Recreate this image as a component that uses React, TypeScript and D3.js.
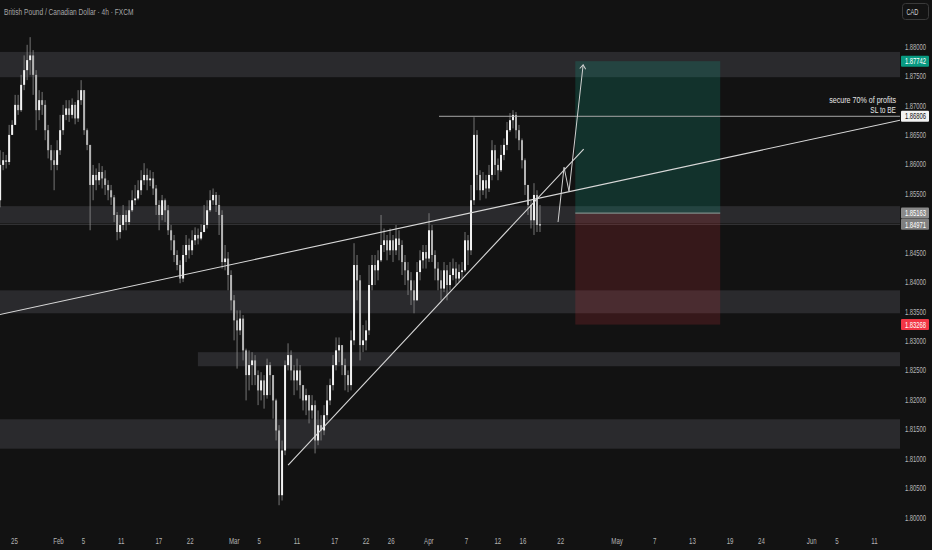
import { useEffect, useRef } from "react"
import * as d3 from "d3"

const W = 932
const H = 550
const PLOT_RIGHT = 900
const PLOT_BOTTOM = 530

const parseDay = d3.timeParse("%Y-%m-%d")
const parseHour = d3.timeParse("%Y-%m-%d %H")

// 4h-ish candles (open = previous close)
const firstOpen = 1.8538
const closes = [
  1.8598, 1.8606, 1.8603, 1.8649, 1.8666, 1.87, 1.8691, 1.8734, 1.8759, 1.8776,
  1.8784, 1.8751, 1.8691, 1.8708, 1.87, 1.8657, 1.8623, 1.8606, 1.8598, 1.8623,
  1.8657, 1.8683, 1.8694, 1.8683, 1.87, 1.8677, 1.8708, 1.8725, 1.8657, 1.8632,
  1.8564, 1.8581, 1.8572, 1.8586, 1.8575, 1.8564, 1.8555, 1.8543, 1.8513, 1.8484,
  1.8496, 1.8513, 1.8501, 1.8521, 1.8538, 1.8541, 1.8555, 1.8572, 1.8581, 1.8572,
  1.8575, 1.8558, 1.853, 1.8513, 1.8538, 1.8521, 1.8487, 1.847, 1.8445, 1.8428,
  1.8405, 1.8445, 1.8462, 1.8453, 1.847, 1.8479, 1.8473, 1.8484, 1.8496, 1.8521,
  1.8538, 1.8547, 1.853, 1.8513, 1.8433, 1.8439, 1.8411, 1.8368, 1.8334, 1.8317,
  1.8337, 1.8283, 1.8241, 1.8258, 1.8266, 1.8241, 1.8215, 1.8232, 1.8207, 1.8258,
  1.8241, 1.8198, 1.8147, 1.8037, 1.8113, 1.8258, 1.8275, 1.8249, 1.8232, 1.8249,
  1.8224, 1.8198, 1.8207, 1.8181, 1.819, 1.813, 1.8156, 1.8147, 1.8173, 1.8198,
  1.8224, 1.8258, 1.8283, 1.8292, 1.8258, 1.8241, 1.8224, 1.83, 1.8428, 1.8402,
  1.8292, 1.83, 1.8317, 1.8394, 1.8428, 1.8419, 1.8436, 1.8462, 1.847, 1.8453,
  1.847, 1.8453, 1.8473, 1.8462, 1.8433, 1.8419, 1.8402, 1.8385, 1.8368, 1.8416,
  1.8436, 1.845, 1.8439, 1.8487, 1.8445, 1.8422, 1.8402, 1.8388, 1.8419, 1.8394,
  1.8411, 1.8422, 1.8405, 1.8416, 1.8419, 1.847, 1.8453, 1.8538, 1.8649, 1.8581,
  1.8555, 1.8572, 1.8558, 1.8581, 1.8623, 1.8598, 1.8589, 1.8615, 1.8632, 1.8657,
  1.8674, 1.8683, 1.8657, 1.864, 1.8606, 1.8564, 1.853, 1.8504, 1.8547, 1.8496, 1.8497,
]
const highs = [
  1.8623, 1.862, 1.8615, 1.8666, 1.8674, 1.8717, 1.8717, 1.8751, 1.8784, 1.8802,
  1.8815, 1.8793, 1.8759, 1.8725, 1.8722, 1.8708, 1.8666, 1.8632, 1.8623, 1.864,
  1.8683, 1.87, 1.8708, 1.8708, 1.8711, 1.8705, 1.8725, 1.8742, 1.8725, 1.866,
  1.8632, 1.8598, 1.8592, 1.8601, 1.8596, 1.8589, 1.8572, 1.8564, 1.8547, 1.8518,
  1.8513, 1.853, 1.8521, 1.8538, 1.8555, 1.8564, 1.8572, 1.8589, 1.8601, 1.8592,
  1.8589, 1.8586, 1.8564, 1.8538, 1.8547, 1.8541, 1.853, 1.8496, 1.8479, 1.8453,
  1.8436, 1.8462, 1.8479, 1.8473, 1.8487, 1.8492, 1.849, 1.8497, 1.853, 1.8538,
  1.8555, 1.8558, 1.8552, 1.8547, 1.8521, 1.8462, 1.845, 1.8419, 1.8377, 1.8351,
  1.8351, 1.8343, 1.8286, 1.8283, 1.828, 1.8275, 1.8249, 1.8246, 1.8241, 1.8269,
  1.8263, 1.8241, 1.8201, 1.8156, 1.813, 1.8266, 1.8295, 1.8283, 1.8258, 1.8269,
  1.8258, 1.8224, 1.8218, 1.8207, 1.8207, 1.8198, 1.8181, 1.8173, 1.819, 1.8224,
  1.8235, 1.8275, 1.8305, 1.8305, 1.8292, 1.8269, 1.8249, 1.8317, 1.8465, 1.8445,
  1.8411, 1.8326, 1.8334, 1.8428, 1.8445, 1.8445, 1.8453, 1.8513, 1.849, 1.8479,
  1.849, 1.8479, 1.8496, 1.8487, 1.847, 1.8445, 1.8433, 1.8416, 1.8402, 1.8433,
  1.8453, 1.8462, 1.8462, 1.8516, 1.8496, 1.8453, 1.8433, 1.8419, 1.8433, 1.8428,
  1.8433, 1.8439, 1.8433, 1.8429, 1.8433, 1.8484, 1.8479, 1.8564, 1.8679, 1.8657,
  1.8589, 1.8586, 1.8581, 1.8598, 1.864, 1.8632, 1.8609, 1.8632, 1.8643, 1.8671,
  1.8686, 1.8691, 1.8688, 1.8666, 1.8643, 1.8609, 1.8564, 1.8538, 1.8567, 1.8555, 1.853,
]
const lows = [
  1.8526, 1.8589, 1.8592, 1.8598, 1.8649, 1.8666, 1.8683, 1.8688, 1.8725, 1.8742,
  1.8751, 1.8717, 1.8657, 1.8674, 1.8683, 1.864, 1.8609, 1.8589, 1.8555, 1.8589,
  1.8615, 1.8649, 1.8674, 1.8671, 1.8677, 1.8667, 1.8671, 1.87, 1.8649, 1.8623,
  1.8487, 1.8538, 1.8555, 1.8564, 1.8558, 1.8547, 1.8538, 1.853, 1.8501, 1.847,
  1.8473, 1.8487, 1.8487, 1.8496, 1.8518, 1.853, 1.8538, 1.8547, 1.8564, 1.8555,
  1.8562, 1.8547, 1.8513, 1.8487, 1.8504, 1.8501, 1.8479, 1.8453, 1.8433, 1.8419,
  1.8397, 1.8399, 1.8433, 1.8439, 1.8445, 1.8462, 1.8463, 1.847, 1.8484, 1.849,
  1.8518, 1.853, 1.8518, 1.8479, 1.8422, 1.8419, 1.8385, 1.8351, 1.83, 1.8252,
  1.8309, 1.8266, 1.8198, 1.8215, 1.8224, 1.8224, 1.819, 1.8198, 1.8184, 1.8201,
  1.8207, 1.8167, 1.813, 1.802, 1.8028, 1.8105, 1.8249, 1.8232, 1.8207, 1.8215,
  1.8201, 1.8181, 1.8173, 1.8159, 1.8167, 1.8108, 1.8122, 1.813, 1.8139, 1.8164,
  1.819, 1.8215, 1.8249, 1.8263, 1.8241, 1.8215, 1.8212, 1.8215, 1.8292, 1.8368,
  1.8266, 1.828, 1.8283, 1.8309, 1.8385, 1.8394, 1.8402, 1.8433, 1.845, 1.8436,
  1.8445, 1.8433, 1.8445, 1.8436, 1.8411, 1.8394, 1.8377, 1.836, 1.8346, 1.8368,
  1.8402, 1.8422, 1.8422, 1.8433, 1.8433, 1.8402, 1.8385, 1.8368, 1.8382, 1.8368,
  1.8385, 1.8402, 1.8394, 1.8399, 1.8405, 1.8416, 1.8428, 1.8445, 1.853, 1.8555,
  1.8538, 1.8547, 1.8541, 1.8552, 1.8572, 1.8581, 1.8572, 1.8586, 1.8606, 1.8623,
  1.8654, 1.866, 1.8643, 1.8623, 1.8592, 1.8547, 1.8513, 1.849, 1.8479, 1.8484, 1.8484,
]
const firstBar = "2025-01-22 19"
const lastBar = "2025-04-18 19"

const priceTicks = [
  1.8, 1.805, 1.81, 1.815, 1.82, 1.825, 1.83, 1.835, 1.84, 1.845, 1.85, 1.855, 1.86,
  1.865, 1.87, 1.875, 1.88,
]
const dateTicks = [
  "2025-01-25", "2025-02-01", "2025-02-05", "2025-02-11", "2025-02-17", "2025-02-22",
  "2025-03-01", "2025-03-05", "2025-03-11", "2025-03-17", "2025-03-22", "2025-03-26",
  "2025-04-01", "2025-04-07", "2025-04-12", "2025-04-16", "2025-04-22", "2025-05-01",
  "2025-05-07", "2025-05-13", "2025-05-19", "2025-05-24", "2025-06-01", "2025-06-05",
  "2025-06-11",
]
const dateLabels = [
  "25", "Feb", "5", "11", "17", "22", "Mar", "5", "11", "17", "22", "26", "Apr", "7",
  "12", "16", "22", "May", "7", "13", "19", "24", "Jun", "5", "11",
]

// supply / demand zones
const zoneHigh = [1.879, 1.8528, 1.8385, 1.828, 1.8166]
const zoneLow = [1.8747, 1.8499, 1.8346, 1.8256, 1.8116]
const zoneFrom = ["2025-01-15 00", "2025-01-15 00", "2025-01-15 00", "2025-02-23 07", "2025-01-15 00"]

// long position tool
const target = 1.87742
const entry = 1.85163
const lastPrice = 1.84971
const stop = 1.83268
const partial = 1.86806
const positionFrom = "2025-04-24 10"
const positionTo = "2025-05-17 12"
const partialFrom = "2025-04-02 17"

const channelLine: [string, number][] = [["2025-01-22 18", 1.8344], ["2025-06-15 04", 1.8674]]
const supportLine: [string, number][] = [["2025-03-09 16", 1.8088], ["2025-04-25 18", 1.8625]]
const projection: [string, number][] = [
  ["2025-04-21 16", 1.8501],
  ["2025-04-22 15", 1.8594],
  ["2025-04-23 10", 1.8553],
  ["2025-04-25 16", 1.8768],
]

const FONT = "'Liberation Sans', Arial, sans-serif"
const PRICE_SX = 0.65 // the screenshot's glyphs are horizontally squeezed

export default function App() {
  const svgRef = useRef<SVGSVGElement>(null)

  useEffect(() => {
    if (!svgRef.current) return
    document.body.style.margin = "0"
    const svg = d3.select(svgRef.current)
    svg.selectAll("*").remove()

    const x = d3
      .scaleTime()
      .domain([parseDay("2025-01-25")!, parseDay("2025-06-11")!])
      .range([14, 874])
    const y = d3.scaleLinear().domain([1.8, 1.88]).range([517, 46])
    const n = closes.length
    const xi = d3
      .scaleLinear()
      .domain([0, n - 1])
      .range([x(parseHour(firstBar)!), x(parseHour(lastBar)!)])

    const candles = closes.map((c, i) => {
      const o = i === 0 ? firstOpen : closes[i - 1]
      return { i, o, c, h: Math.max(highs[i], o, c), l: Math.min(lows[i], o, c) }
    })

    // background
    svg.append("rect").attr("width", W).attr("height", H).attr("fill", "#121212")

    svg
      .append("defs")
      .call((d) =>
        d.append("clipPath").attr("id", "plot").append("rect").attr("width", PLOT_RIGHT).attr("height", PLOT_BOTTOM)
      )
      .call((d) =>
        d
          .append("marker")
          .attr("id", "arrow")
          .attr("viewBox", "-6 -5 8 10")
          .attr("markerWidth", 8)
          .attr("markerHeight", 10)
          .attr("markerUnits", "userSpaceOnUse")
          .attr("orient", "auto")
          .append("path")
          .attr("d", "M-4,-3L0,0L-4,3")
          .attr("fill", "none")
          .attr("stroke", "#d0d0d0")
          .attr("stroke-width", 1)
      )

    const plot = svg.append("g").attr("clip-path", "url(#plot)")

    // zones
    plot
      .selectAll(".zone")
      .data(zoneHigh)
      .enter()
      .append("rect")
      .attr("x", (_, i) => Math.max(0, x(parseHour(zoneFrom[i])!)))
      .attr("y", (d) => y(d))
      .attr("width", (_, i) => PLOT_RIGHT - Math.max(0, x(parseHour(zoneFrom[i])!)))
      .attr("height", (d, i) => y(zoneLow[i]) - y(d))
      .attr("fill", "#2a2a2d")

    // last price line
    plot
      .append("line")
      .attr("x1", 0)
      .attr("x2", PLOT_RIGHT)
      .attr("y1", y(lastPrice))
      .attr("y2", y(lastPrice))
      .attr("stroke", "#38383a")
      .attr("stroke-width", 1)

    // long position box
    const px0 = x(parseHour(positionFrom)!)
    const px1 = x(parseHour(positionTo)!)
    plot
      .append("rect")
      .attr("x", px0)
      .attr("y", y(target))
      .attr("width", px1 - px0)
      .attr("height", y(entry) - y(target))
      .attr("fill", "rgba(20,165,135,0.22)")
    plot
      .append("rect")
      .attr("x", px0)
      .attr("y", y(entry))
      .attr("width", px1 - px0)
      .attr("height", y(stop) - y(entry))
      .attr("fill", "rgba(242,54,69,0.16)")
    plot
      .append("line")
      .attr("x1", px0)
      .attr("x2", px1)
      .attr("y1", y(entry))
      .attr("y2", y(entry))
      .attr("stroke", "#7e8c89")
      .attr("stroke-width", 1.2)

    // candles
    const bw = 2
    const cg = plot.append("g")
    cg.selectAll(".wick")
      .data(candles)
      .enter()
      .append("line")
      .attr("x1", (d) => xi(d.i))
      .attr("x2", (d) => xi(d.i))
      .attr("y1", (d) => y(d.h))
      .attr("y2", (d) => y(d.l))
      .attr("stroke", "#8e8e8e")
      .attr("stroke-width", 0.8)
    cg.selectAll(".body")
      .data(candles)
      .enter()
      .append("rect")
      .attr("x", (d) => xi(d.i) - bw / 2)
      .attr("y", (d) => y(Math.max(d.o, d.c)))
      .attr("width", bw)
      .attr("height", (d) => Math.max(1, Math.abs(y(d.o) - y(d.c))))
      .attr("fill", (d) => (d.c >= d.o ? "#f2f2f2" : "#b4b4b4"))

    // drawings
    const line = d3
      .line<[string, number]>()
      .x((d) => x(parseHour(d[0])!))
      .y((d) => y(d[1]))
    plot
      .append("line")
      .attr("x1", x(parseHour(partialFrom)!))
      .attr("x2", PLOT_RIGHT)
      .attr("y1", y(partial))
      .attr("y2", y(partial))
      .attr("stroke", "#a8a8a8")
      .attr("stroke-width", 1)
    plot.append("path").attr("d", line(channelLine)).attr("fill", "none").attr("stroke", "#d8d8d8").attr("stroke-width", 1.1)
    plot.append("path").attr("d", line(supportLine)).attr("fill", "none").attr("stroke", "#d8d8d8").attr("stroke-width", 1.1)
    plot
      .append("path")
      .attr("d", line(projection))
      .attr("fill", "none")
      .attr("stroke", "#d0d0d0")
      .attr("stroke-width", 1)
      .attr("marker-end", "url(#arrow)")

    // squeezed text helper
    const label = (
      g: d3.Selection<any, any, any, any>,
      tx: number,
      ty: number,
      text: string,
      opts: { size?: number; fill?: string; anchor?: string; sx?: number }
    ) =>
      g
        .append("text")
        .attr("font-family", FONT)
        .attr("font-size", opts.size ?? 9)
        .attr("fill", opts.fill ?? "#b8b8b8")
        .attr("text-anchor", opts.anchor ?? "start")
        .attr("transform", `translate(${tx},${ty}) scale(${opts.sx ?? 0.7},1)`)
        .text(text)

    label(svg, 896, 103, "secure 70% of profits", { fill: "#e6e6e6", anchor: "end", sx: 0.79 })
    label(svg, 896, 112.5, "SL to BE", { fill: "#e6e6e6", anchor: "end", sx: 0.73 })

    // title
    label(svg, 4, 14.5, "British Pound / Canadian Dollar · 4h · FXCM", { fill: "#a6a6a6", size: 9.5, sx: 0.694 })

    // y axis
    const yAxis = svg
      .append("g")
      .attr("transform", `translate(${PLOT_RIGHT + 15.5},0)`)
      .call(d3.axisRight(y).tickValues(priceTicks).tickSize(0).tickPadding(0).tickFormat(d3.format(".5f")))
    yAxis.select(".domain").remove()
    yAxis
      .selectAll("text")
      .attr("x", 0)
      .attr("dy", "0.35em")
      .attr("text-anchor", "middle")
      .attr("transform", `scale(${PRICE_SX},1)`)
      .attr("font-family", FONT)
      .attr("font-size", 9)
      .attr("fill", "#b8b8b8")

    // x axis
    const tickDates = dateTicks.map((d) => parseDay(d)!)
    const xAxis = svg
      .append("g")
      .attr("transform", `translate(0,537.5)`)
      .call(
        d3
          .axisBottom(x)
          .tickValues(tickDates)
          .tickSize(0)
          .tickPadding(0)
          .tickFormat((_, i) => dateLabels[i])
      )
    xAxis.select(".domain").remove()
    xAxis
      .selectAll("text")
      .attr("font-family", FONT)
      .attr("font-size", 9)
      .attr("fill", "#b4b4b4")
      .attr("transform", "scale(0.68,1)")

    // price tags on the axis
    const tags = [
      { v: target, bg: "#089981", fg: "#ffffff" },
      { v: partial, bg: "#f2f2f2", fg: "#111111" },
      { v: entry, bg: "#8a8a8a", fg: "#ffffff" },
      { v: lastPrice, bg: "#7f7f7f", fg: "#ffffff" },
      { v: stop, bg: "#f23645", fg: "#ffffff" },
    ]
    const tg = svg.append("g")
    tags.forEach((t) => {
      tg.append("rect")
        .attr("x", 901)
        .attr("y", y(t.v) - 5.5)
        .attr("width", 28)
        .attr("height", 11)
        .attr("rx", 1)
        .attr("fill", t.bg)
      label(tg, 915.5, y(t.v) + 3.2, d3.format(".5f")(t.v), { fill: t.fg, anchor: "middle", sx: PRICE_SX })
    })

    // currency button
    svg
      .append("rect")
      .attr("x", 902.5)
      .attr("y", 3.5)
      .attr("width", 26)
      .attr("height", 16)
      .attr("rx", 3)
      .attr("fill", "#131313")
      .attr("stroke", "#3a3a3a")
    label(svg, 906.5, 15, "CAD", { fill: "#d0d0d0", sx: 0.63 })
  }, [])

  return (
    <svg
      ref={svgRef}
      width={W}
      height={H}
      style={{ position: "absolute", left: 0, top: 0, display: "block" }}
    />
  )
}
